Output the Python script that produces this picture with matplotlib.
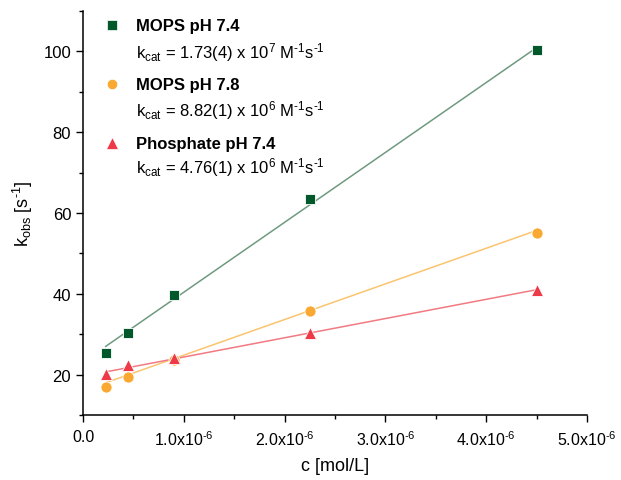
import numpy as np
import matplotlib
matplotlib.use('Agg')
import matplotlib.pyplot as plt
from matplotlib.ticker import MultipleLocator, FuncFormatter

plt.rcParams['font.family'] = ['Liberation Sans', 'DejaVu Sans']
plt.rcParams['mathtext.fontset'] = 'custom'
plt.rcParams['mathtext.rm'] = 'Liberation Sans'
plt.rcParams['mathtext.it'] = 'Liberation Sans'
plt.rcParams['mathtext.bf'] = 'Liberation Sans:bold'
plt.rcParams['mathtext.default'] = 'regular'

HY = '\u2010'  # short hyphen, like the original labels

# Data
conc = [0.225e-6, 0.45e-6, 0.9e-6, 2.25e-6, 4.5e-6]
mops74 = [25.4, 30.4, 39.6, 63.5, 100.4]
mops78 = [17.0, 19.4, 23.7, 35.8, 55.0]
phos74 = [20.2, 22.4, 24.1, 30.3, 41.0]

names = ['MOPS pH 7.4', 'MOPS pH 7.8', 'Phosphate pH 7.4']
kcat_labels = ['1.73(4) x 10$^{7}$', '8.82(1) x 10$^{6}$', '4.76(1) x 10$^{6}$']
slopes = [1.73e7, 8.82e6, 4.76e6]
intercepts = [23.1, 16.0, 19.6]

colors = ['#00582b', '#f9a832', '#ee3a48']
line_colors = ['#6f9a80', '#fbc46e', '#f27a82']
markers = ['s', 'o', '^']
sizes = [7, 8, 8.5]

fig = plt.figure(figsize=(6.21, 4.81), dpi=100)
ax = fig.add_axes([0.1337, 0.1351, 0.8116, 0.8399])

series = [mops74, mops78, phos74]
xfit = np.array([conc[0], conc[-1]])
for i, ys in enumerate(series):
    ax.plot(xfit, intercepts[i] + slopes[i] * xfit, color=line_colors[i], lw=1.1, zorder=2)
    ax.plot(conc, ys, linestyle='none', marker=markers[i], color=colors[i],
            markersize=sizes[i], markeredgecolor='white', markeredgewidth=0.6, zorder=3)

# legend-like annotations
row_y = [(0.965, 0.900), (0.819, 0.756), (0.673, 0.614)]
for i in range(3):
    ax.plot([0.0575], [row_y[i][0]], transform=ax.transAxes, linestyle='none',
            marker=markers[i], color=colors[i], markersize=sizes[i] - 0.5,
            markeredgecolor='white', markeredgewidth=0.5, clip_on=False)
    ax.text(0.105, row_y[i][0], names[i], transform=ax.transAxes, fontsize=12,
            fontweight='bold', va='center', ha='left')
    ax.text(0.105, row_y[i][1],
            'k$_{cat}$ = ' + kcat_labels[i] + ' M$^{' + HY + '1}$s$^{' + HY + '1}$',
            transform=ax.transAxes, fontsize=12, va='center', ha='left')

ax.set_xlim(0, 5e-6)
ax.set_ylim(10, 110)
ax.xaxis.set_major_locator(MultipleLocator(1e-6))
ax.xaxis.set_minor_locator(MultipleLocator(0.5e-6))
ax.yaxis.set_major_locator(MultipleLocator(20))
ax.yaxis.set_minor_locator(MultipleLocator(10))
ax.set_yticks([20, 40, 60, 80, 100])


def fmt_x(v, pos):
    if abs(v) < 1e-12:
        return '0.0'
    return '%.1fx10$^{%s6}$' % (v / 1e-6, HY)


ax.xaxis.set_major_formatter(FuncFormatter(fmt_x))
ax.tick_params(which='major', direction='out', length=5, width=1, labelsize=12)
ax.tick_params(axis='x', which='major', labelsize=11.5, pad=5)
ax.tick_params(which='minor', direction='out', length=3, width=1)
ax.spines['top'].set_visible(False)
ax.spines['right'].set_visible(False)
for s in ['left', 'bottom']:
    ax.spines[s].set_linewidth(1.1)

ax.set_xlabel('c [mol/L]', fontsize=13, labelpad=7)
ax.set_ylabel('k$_{obs}$ [s$^{' + HY + '1}$]', fontsize=13, labelpad=6)

fig.savefig('out.png', dpi=100)
